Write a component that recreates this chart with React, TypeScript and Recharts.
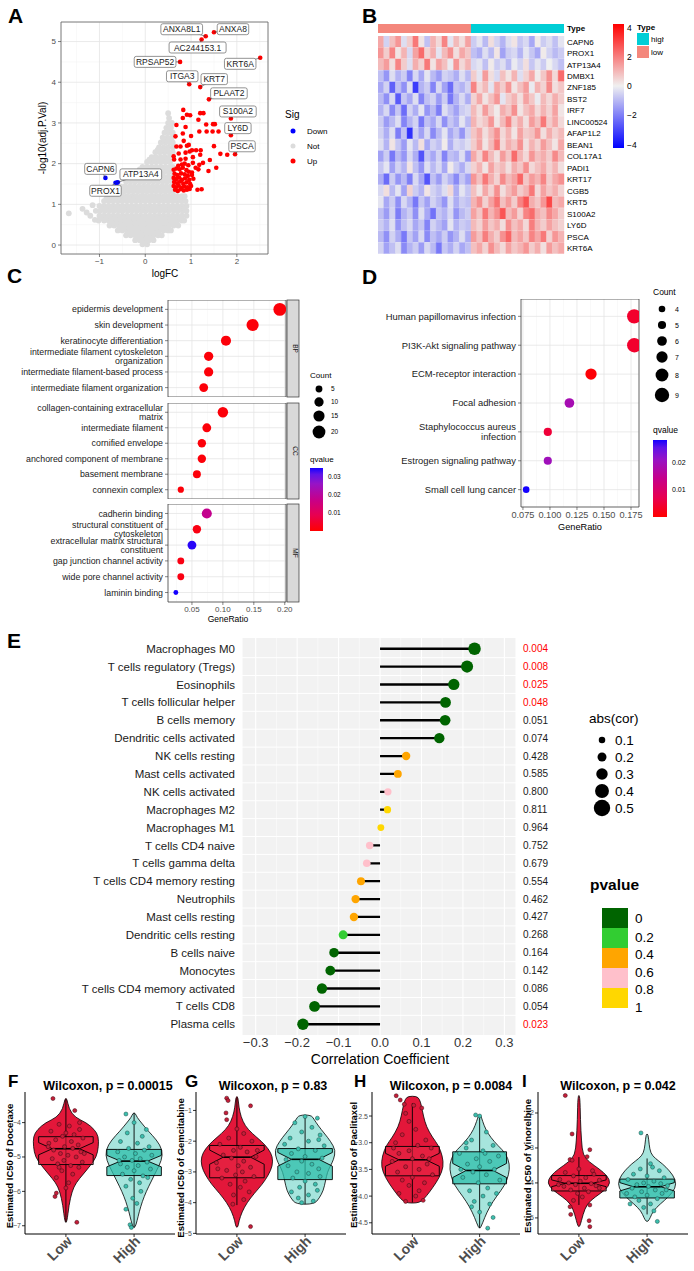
import React from "react";
import {
  ScatterChart, Scatter, XAxis, YAxis, CartesianGrid, ReferenceLine, ReferenceArea, BarChart, Bar, Cell,
} from "recharts";

const FONT = '"Liberation Sans", Arial, Helvetica, sans-serif';
const MINUS = "\u2212";
function fmtNum(v: number, dec: number) {
  const s = Math.abs(v).toFixed(dec);
  return v < 0 && Math.abs(v) > 1e-9 ? MINUS + s : s;
}

// ================= Panel A : volcano =================
const volcanoGreyRows = [
  { y: 0.02, xs: [-0.06, 0.04] },
  { y: 0.12, xs: [-0.22, -0.12, -0.02, 0.08, 0.18] },
  { y: 0.24, xs: [-0.42, -0.32, -0.22, -0.12, -0.02, 0.08, 0.18, 0.28, 0.36] },
  { y: 0.36, xs: [-0.6, -0.5, -0.4, -0.3, -0.2, -0.1, 0, 0.1, 0.2, 0.3, 0.4, 0.5, 0.56] },
  { y: 0.48, xs: [-0.78, -0.68, -0.58, -0.48, -0.38, -0.28, -0.18, -0.08, 0.02, 0.12, 0.22, 0.32, 0.42, 0.52, 0.62, 0.72] },
  { y: 0.6, xs: [-1.02, -0.9, -0.8, -0.7, -0.6, -0.5, -0.4, -0.3, -0.2, -0.1, 0, 0.1, 0.2, 0.3, 0.4, 0.5, 0.6, 0.7, 0.8, 0.85] },
  { y: 0.72, xs: [-1.2, -1.0, -0.9, -0.8, -0.7, -0.6, -0.5, -0.4, -0.3, -0.2, -0.1, 0, 0.1, 0.2, 0.3, 0.4, 0.5, 0.6, 0.7, 0.8, 0.9] },
  { y: 0.84, xs: [-1.08, -0.98, -0.88, -0.78, -0.68, -0.58, -0.48, -0.38, -0.28, -0.18, -0.08, 0.02, 0.12, 0.22, 0.32, 0.42, 0.52, 0.62, 0.72, 0.82, 0.9] },
  { y: 0.96, xs: [-1.0, -0.9, -0.8, -0.7, -0.6, -0.5, -0.4, -0.3, -0.2, -0.1, 0, 0.1, 0.2, 0.3, 0.4, 0.5, 0.6, 0.7, 0.8, 0.9] },
  { y: 1.08, xs: [-0.9, -0.8, -0.7, -0.6, -0.5, -0.4, -0.3, -0.2, -0.1, 0, 0.1, 0.2, 0.3, 0.4, 0.5, 0.6, 0.7, 0.8, 0.88] },
  { y: 1.2, xs: [-0.8, -0.7, -0.6, -0.5, -0.4, -0.3, -0.2, -0.1, 0, 0.1, 0.2, 0.3, 0.4, 0.5, 0.6, 0.7, 0.8, 0.86] },
  { y: 1.32, xs: [-0.66, -0.56, -0.46, -0.36, -0.26, -0.16, -0.06, 0.04, 0.14, 0.24, 0.34, 0.44, 0.54, 0.62] },
  { y: 1.44, xs: [-0.54, -0.44, -0.34, -0.24, -0.14, -0.04, 0.06, 0.16, 0.26, 0.36, 0.46, 0.56, 0.62] },
  { y: 1.56, xs: [-0.42, -0.32, -0.22, -0.12, -0.02, 0.08, 0.18, 0.28, 0.38, 0.48, 0.58] },
  { y: 1.68, xs: [-0.3, -0.2, -0.1, 0, 0.1, 0.2, 0.3, 0.4, 0.5, 0.6] },
  { y: 1.8, xs: [-0.18, -0.08, 0.02, 0.12, 0.22, 0.32, 0.42, 0.52, 0.6] },
  { y: 1.92, xs: [-0.06, 0.04, 0.14, 0.24, 0.34, 0.44, 0.54, 0.6] },
  { y: 2.04, xs: [0.04, 0.14, 0.24, 0.34, 0.44, 0.54] },
  { y: 2.16, xs: [0.14, 0.24, 0.34, 0.44, 0.54, 0.6] },
  { y: 2.28, xs: [0.22, 0.32, 0.42, 0.52, 0.6] },
  { y: 2.4, xs: [0.3, 0.4, 0.5, 0.6] },
  { y: 2.52, xs: [0.34, 0.44, 0.54, 0.6] },
  { y: 2.64, xs: [0.38, 0.48, 0.58] },
  { y: 2.76, xs: [0.42, 0.52, 0.6] },
  { y: 2.88, xs: [0.46, 0.56] },
  { y: 3.0, xs: [0.5, 0.58] },
  { y: 3.12, xs: [0.52] },
  { y: 3.24, xs: [0.5] },
];
const volcanoGreyFill = [
  [-0.01, 0.07], [-0.17, 0.18], [-0.07, 0.18], [0.03, 0.18], [0.13, 0.18], [-0.37, 0.3], [-0.27, 0.3], [-0.17, 0.3], [-0.07, 0.3], [0.03, 0.3], [0.13, 0.3], [0.23, 0.3],
  [-0.55, 0.42], [-0.45, 0.42], [-0.35, 0.42], [-0.25, 0.42], [-0.15, 0.42], [-0.05, 0.42], [0.05, 0.42], [0.15, 0.42], [0.25, 0.42], [0.35, 0.42], [0.45, 0.42],
  [-0.73, 0.54], [-0.63, 0.54], [-0.53, 0.54], [-0.43, 0.54], [-0.33, 0.54], [-0.23, 0.54], [-0.13, 0.54], [-0.03, 0.54], [0.07, 0.54], [0.17, 0.54], [0.27, 0.54], [0.37, 0.54], [0.47, 0.54], [0.57, 0.54], [0.67, 0.54],
  [-0.95, 0.66], [-0.85, 0.66], [-0.75, 0.66], [-0.65, 0.66], [-0.55, 0.66], [-0.45, 0.66], [-0.35, 0.66], [-0.25, 0.66], [-0.15, 0.66], [-0.05, 0.66], [0.05, 0.66], [0.15, 0.66], [0.25, 0.66], [0.35, 0.66], [0.45, 0.66], [0.55, 0.66], [0.65, 0.66], [0.75, 0.66],
  [-0.95, 0.9], [-0.85, 0.9], [-0.75, 0.9], [-0.65, 0.9], [-0.55, 0.9], [-0.45, 0.9], [-0.35, 0.9], [-0.25, 0.9], [-0.15, 0.9], [-0.05, 0.9], [0.05, 0.9], [0.15, 0.9], [0.25, 0.9], [0.35, 0.9], [0.45, 0.9], [0.55, 0.9], [0.65, 0.9], [0.75, 0.9], [0.85, 0.9],
  [-0.85, 1.14], [-0.75, 1.14], [-0.65, 1.14], [-0.55, 1.14], [-0.45, 1.14], [-0.35, 1.14], [-0.25, 1.14], [-0.15, 1.14], [-0.05, 1.14], [0.05, 1.14], [0.15, 1.14], [0.25, 1.14], [0.35, 1.14], [0.45, 1.14], [0.55, 1.14], [0.65, 1.14], [0.75, 1.14],
  [-0.61, 1.38], [-0.51, 1.38], [-0.41, 1.38], [-0.31, 1.38], [-0.21, 1.38], [-0.11, 1.38], [-0.01, 1.38], [0.09, 1.38], [0.19, 1.38], [0.29, 1.38], [0.39, 1.38], [0.49, 1.38],
  [-0.37, 1.62], [-0.27, 1.62], [-0.17, 1.62], [-0.07, 1.62], [0.03, 1.62], [0.13, 1.62], [0.23, 1.62], [0.33, 1.62], [0.43, 1.62], [0.53, 1.62],
  [-0.12, 1.86], [-0.02, 1.86], [0.08, 1.86], [0.18, 1.86], [0.28, 1.86], [0.38, 1.86], [0.48, 1.86],
  [0.09, 2.1], [0.19, 2.1], [0.29, 2.1], [0.39, 2.1], [0.49, 2.1], [0.27, 2.34], [0.37, 2.34], [0.47, 2.34], [0.41, 2.58], [0.51, 2.58], [0.47, 2.82], [0.55, 2.94],
];
const volcanoGreyOutliers = [[-1.67, 0.78], [-1.37, 0.89], [-1.28, 0.8], [-1.15, 0.98], [-1.1, 0.62]];
const volcanoUp = [
  [1.5, 5.23], [1.32, 5.13], [1.23, 5.05], [2.51, 4.6], [0.76, 4.5], [0.96, 3.95], [1.2, 3.88], [1.39, 3.58],
  [1.87, 3.11], [1.87, 2.7], [1.96, 2.23],
  [0.83, 3.32], [0.82, 3.12], [0.91, 3.2], [0.98, 3.19], [1.2, 3.24], [1.27, 3.24], [0.68, 2.95], [0.88, 2.9],
  [1.16, 3.08], [1.33, 2.96], [1.48, 2.97], [1.52, 2.97], [1.18, 2.79], [1.34, 2.79], [1.47, 2.79], [1.6, 2.79],
  [0.66, 2.67], [0.82, 2.74], [0.84, 2.56], [1.0, 2.68], [0.68, 2.42], [0.77, 2.42], [0.91, 2.44], [0.95, 2.46],
  [1.5, 2.43], [1.02, 2.33], [1.11, 2.33], [1.21, 2.33], [1.64, 2.24], [1.79, 2.22], [0.62, 2.18], [0.73, 2.25],
  [0.88, 2.27], [0.97, 2.3], [1.2, 2.22], [0.63, 2.1], [0.77, 2.1], [0.88, 2.12], [1.04, 2.16], [1.41, 2.09],
  [1.04, 2.02], [1.26, 2.02], [1.18, 1.97], [1.55, 1.9], [1.16, 1.86], [1.38, 1.82],
  [0.62, 1.85], [0.68, 1.88], [0.75, 1.86], [0.82, 1.9], [0.9, 1.84], [0.95, 1.8], [0.64, 1.75], [0.7, 1.72],
  [0.78, 1.76], [0.86, 1.74], [0.93, 1.7], [1.02, 1.72], [0.62, 1.65], [0.68, 1.62], [0.74, 1.66], [0.8, 1.6],
  [0.87, 1.64], [0.96, 1.6], [1.05, 1.63], [0.63, 1.55], [0.7, 1.52], [0.76, 1.56], [0.83, 1.5], [0.9, 1.54],
  [0.98, 1.5], [0.62, 1.45], [0.67, 1.42], [0.73, 1.46], [0.79, 1.4], [0.85, 1.44], [0.92, 1.42], [1.0, 1.45],
  [0.65, 1.36], [0.71, 1.33], [0.77, 1.37], [0.84, 1.34], [0.91, 1.36], [0.97, 1.38], [1.14, 1.36], [1.23, 1.37],
  [0.72, 1.95], [0.8, 1.98], [0.86, 2.0], [0.94, 1.96], [1.1, 1.9], [1.02, 1.78],
];
const volcanoDown = [[-0.87, 1.65], [-0.65, 1.53], [-0.62, 1.53], [-0.6, 1.54]];
const volcanoLabels = [
  { gene: "ANXA8", x: 1.5, y: 5.23 }, { gene: "ANXA8L1", x: 1.32, y: 5.13 }, { gene: "AC244153.1", x: 1.23, y: 5.05 },
  { gene: "KRT6A", x: 2.51, y: 4.6 }, { gene: "RPSAP52", x: 0.76, y: 4.5 }, { gene: "ITGA3", x: 0.96, y: 3.95 },
  { gene: "KRT7", x: 1.2, y: 3.88 }, { gene: "PLAAT2", x: 1.39, y: 3.58 }, { gene: "S100A2", x: 1.87, y: 3.11 },
  { gene: "LY6D", x: 1.87, y: 2.7 }, { gene: "PSCA", x: 1.96, y: 2.23 }, { gene: "CAPN6", x: -0.87, y: 1.65 },
  { gene: "PROX1", x: -0.65, y: 1.53 }, { gene: "ATP13A4", x: -0.6, y: 1.54 },
];
const LABEL_OFFSETS: Record<string, number[]> = {
  ANXA8L1: [-24, -7], ANXA8: [19, -3], "AC244153.1": [-4, 8], KRT6A: [-20, 6], RPSAP52: [-25, 0],
  ITGA3: [-7, -8], KRT7: [14, -8], PLAAT2: [20, -6], S100A2: [7, -7], LY6D: [7, -7], PSCA: [7, -8],
  CAPN6: [-5, -9], PROX1: [-10, 8], ATP13A4: [23, -8],
};

// ================= Panel B : heatmap =================
const heatGenes = ["CAPN6", "PROX1", "ATP13A4", "DMBX1", "ZNF185", "BST2", "IRF7", "LINC00524", "AFAP1L2", "BEAN1",
  "COL17A1", "PADI1", "KRT17", "CGB5", "KRT5", "S100A2", "LY6D", "PSCA", "KRT6A"];
const typeGroups = ["low", "high"];
const typeSizes = [16, 16];
const heatValues = [
  [1.2, -0.5, 0.8, 1.5, -0.3, 0.6, 2.0, 0.2, -0.8, 1.0, 0.4, 1.8, -0.2, 0.9, 0.3, 1.3, -0.6, -0.2, -0.9, 0.3, -0.5, -1.0, -0.3, 0.2, -0.7, -0.4, -1.2, 0.1, -0.6, -0.3, -0.8, -0.2],
  [1.5, 0.6, 1.8, 0.2, 1.0, -0.4, 1.3, 2.2, 0.5, 1.1, -0.2, 0.9, 1.6, 0.3, 1.2, 0.7, -0.8, -1.1, -0.3, -0.9, 0.2, -1.3, -0.6, -0.4, -1.0, -0.2, -0.7, -1.2, 0.1, -0.5, -0.9, -0.6],
  [0.9, 1.4, 0.3, 1.8, 0.6, -0.3, 1.1, 0.5, 2.0, 0.2, 1.3, 0.8, -0.1, 1.5, 0.4, 1.0, -0.4, -0.2, -0.8, 0.1, -0.6, -0.3, -0.9, -0.1, -0.5, 0.3, -0.7, -0.2, -0.6, 0.0, -0.4, -0.8],
  [-0.8, -1.5, -0.3, -1.0, -0.6, -1.8, -0.4, -1.2, -0.2, -0.9, -1.4, -0.5, -0.7, -1.1, -0.3, -0.9, 0.6, -0.2, 1.4, 0.3, -0.4, 0.8, 0.2, 1.0, -0.3, 0.5, 1.2, 0.1, 0.7, 1.6, 0.4, 2.2],
  [-1.2, -0.5, -2.4, -0.8, -1.6, -0.3, -3.0, -1.0, -0.6, -1.8, -0.4, -1.3, -2.2, -0.7, -1.0, -0.5, 1.8, 0.4, 0.9, -0.2, 1.2, 0.6, 1.5, 0.2, 0.8, 1.4, -0.1, 1.0, 0.5, 1.7, 0.3, 0.7],
  [-0.9, -1.6, -0.4, -2.5, -0.7, -1.2, -0.3, -1.8, -0.8, -0.5, -1.4, -0.6, -2.0, -1.0, -0.4, -1.1, 0.5, 1.2, 0.2, 0.8, 1.5, -0.2, 0.6, 1.0, 0.3, 1.3, 0.7, -0.1, 0.9, 0.4, 1.1, 0.6],
  [-1.0, -0.4, -1.7, -0.7, -2.2, -0.5, -1.1, -0.2, -1.5, -0.9, -1.9, -0.3, -0.8, -1.3, -0.6, -0.4, 0.9, 0.3, 1.4, 0.6, 0.1, 1.1, 0.7, 1.6, 0.2, 0.8, 1.2, 0.4, 1.0, 0.5, 1.3, 0.2],
  [-0.6, -1.4, -0.9, -0.3, -1.8, -1.0, -0.5, -2.0, -0.8, -1.2, -0.4, -1.6, -0.7, -1.1, -0.2, -0.9, 1.0, 0.4, 0.7, 1.5, 0.2, 0.9, 1.8, 0.5, 1.1, 0.3, 1.4, 0.8, 2.0, 0.6, 1.2, 0.4],
  [-0.5, -1.1, -0.3, -1.9, -0.8, -3.2, -0.6, -1.3, -0.4, -1.7, -0.9, -0.2, -1.2, -0.7, -1.5, -0.5, 0.7, 1.2, 0.3, 0.9, 1.6, 0.4, 1.0, 0.2, 1.3, 0.6, 0.8, 1.5, 0.3, 1.1, 0.5, 0.9],
  [-0.3, -1.0, 0.2, -0.7, -1.4, -0.2, -0.9, 0.3, -1.2, -0.5, -0.8, 0.1, -1.1, -0.4, -0.6, -0.3, 0.6, 1.3, 0.2, 0.9, 2.0, 0.4, 1.1, 0.7, 1.6, 0.3, 1.0, 0.5, 1.4, 0.8, 0.2, 1.2],
  [-1.3, -0.6, -2.0, -0.9, -1.5, -0.4, -1.1, -2.6, -0.7, -1.2, -0.5, -1.8, -0.8, -1.0, -0.3, -1.4, 1.2, 0.5, 1.8, 0.9, 0.3, 1.4, 0.7, 2.2, 1.0, 0.4, 1.5, 0.8, 1.1, 0.6, 1.7, 0.9],
  [-0.7, -0.2, -1.3, -0.5, -1.0, 0.2, -0.8, -1.5, -0.3, -0.9, -0.4, -1.2, 0.1, -0.6, -1.1, -0.4, 0.5, 1.0, 0.2, 1.3, 0.6, 0.9, 0.3, 1.1, 0.7, 1.6, 0.4, 0.8, 1.2, 0.5, 1.0, 0.3],
  [-1.1, -2.2, -0.6, -1.5, -0.9, -1.9, -0.4, -1.2, -2.6, -0.8, -1.4, -0.5, -1.0, -1.7, -0.7, -1.3, 1.5, 0.8, 2.0, 1.1, 0.5, 1.7, 0.9, 1.3, 2.3, 0.7, 1.4, 1.0, 1.8, 0.6, 1.2, 1.6],
  [-0.4, 0.3, -0.9, -0.2, -1.3, 0.5, -0.6, -1.0, 0.2, -0.5, -0.8, -0.3, 0.4, -1.1, -0.2, -0.7, 0.8, 0.2, 1.2, 0.5, 1.6, 0.3, 0.9, 1.4, 0.6, 1.0, 2.0, 0.4, 1.3, 0.7, 1.1, 0.5],
  [-0.2, -1.2, -0.6, -1.6, -0.4, -1.0, -2.0, -0.7, -1.3, -0.5, -0.9, -1.5, -0.3, -1.1, -0.6, -0.8, 1.0, 1.6, 0.5, 1.3, 2.1, 0.8, 1.4, 0.6, 1.8, 2.6, 1.1, 0.7, 1.5, 2.8, 0.9, 1.2],
  [-0.8, -1.4, -0.5, -1.9, -1.0, -0.6, -1.6, -0.3, -1.2, -2.1, -0.7, -1.0, -0.4, -1.5, -0.9, -0.6, 1.3, 0.7, 2.0, 1.0, 1.6, 2.6, 0.9, 1.4, 0.5, 1.8, 2.2, 1.1, 0.8, 1.7, 1.2, 0.6],
  [-0.6, -1.0, -0.3, -1.5, -0.8, -0.4, -1.2, -0.7, -1.8, -0.5, -0.9, -1.3, -0.2, -1.0, -0.6, -0.8, 0.9, 0.5, 1.4, 0.7, 1.1, 0.3, 1.6, 0.8, 1.2, 0.4, 1.9, 1.0, 0.6, 1.3, 0.8, 0.5],
  [-0.9, -1.6, -0.5, -1.1, -2.0, -0.7, -1.3, -0.4, -1.7, -0.8, -1.2, -0.6, -1.5, -1.0, -0.3, -1.1, 1.4, 0.8, 1.9, 1.1, 0.6, 1.6, 2.3, 0.9, 1.3, 0.7, 1.8, 1.2, 2.0, 0.5, 1.5, 1.0],
  [-0.5, -1.3, -0.8, -0.3, -1.7, -1.0, -0.6, -1.4, -0.4, -0.9, -2.0, -0.7, -1.1, -0.5, -1.2, -0.8, 0.8, 1.2, 0.5, 1.6, 0.9, 0.4, 1.3, 0.7, 1.0, 1.5, 0.6, 1.1, 0.3, 1.4, 0.8, 1.2],
];

// ================= Panel C : GO =================
const goBP = [
  { term: "epidermis development", ratio: 0.192, count: 20, q: 0.001 },
  { term: "skin development", ratio: 0.148, count: 18, q: 0.001 },
  { term: "keratinocyte differentiation", ratio: 0.105, count: 12, q: 0.001 },
  { term: "intermediate filament cytoskeleton\norganization", ratio: 0.077, count: 10, q: 0.001 },
  { term: "intermediate filament-based process", ratio: 0.077, count: 10, q: 0.001 },
  { term: "intermediate filament organization", ratio: 0.069, count: 9, q: 0.001 },
];
const goCC = [
  { term: "collagen-containing extracellular\nmatrix", ratio: 0.1, count: 13, q: 0.001 },
  { term: "intermediate filament", ratio: 0.074, count: 9, q: 0.001 },
  { term: "cornified envelope", ratio: 0.066, count: 8, q: 0.001 },
  { term: "anchored component of membrane", ratio: 0.066, count: 8, q: 0.001 },
  { term: "basement membrane", ratio: 0.058, count: 7, q: 0.001 },
  { term: "connexin complex", ratio: 0.032, count: 4, q: 0.001 },
];
const goMF = [
  { term: "cadherin binding", ratio: 0.074, count: 12, q: 0.018 },
  { term: "structural constituent of\ncytoskeleton", ratio: 0.058, count: 8, q: 0.002 },
  { term: "extracellular matrix structural\nconstituent", ratio: 0.05, count: 9, q: 0.034 },
  { term: "gap junction channel activity", ratio: 0.032, count: 5, q: 0.002 },
  { term: "wide pore channel activity", ratio: 0.032, count: 5, q: 0.002 },
  { term: "laminin binding", ratio: 0.024, count: 2, q: 0.035 },
];
const goCountLegend = [5, 10, 15, 20];
const goQTicks = [0.03, 0.02, 0.01];
const GO_QMAX = 0.035;

// ================= Panel D : KEGG =================
const kegg = [
  { term: "Human papillomavirus infection", ratio: 0.178, count: 9, q: 0.004 },
  { term: "PI3K-Akt signaling pathway", ratio: 0.178, count: 9, q: 0.004 },
  { term: "ECM-receptor interaction", ratio: 0.138, count: 7, q: 0.0005 },
  { term: "Focal adhesion", ratio: 0.118, count: 6, q: 0.019 },
  { term: "Staphylococcus aureus\ninfection", ratio: 0.098, count: 5, q: 0.005 },
  { term: "Estrogen signaling pathway", ratio: 0.098, count: 5, q: 0.02 },
  { term: "Small cell lung cancer", ratio: 0.078, count: 4, q: 0.0285 },
];
const keggCountLegend = [4, 5, 6, 7, 8, 9];
const keggQTicks = [0.02, 0.01];
const KEGG_QMAX = 0.0285;

// ================= Panel E : immune lollipop =================
const cellNames = ["Macrophages M0", "T cells regulatory (Tregs)", "Eosinophils", "T cells follicular helper", "B cells memory",
  "Dendritic cells activated", "NK cells resting", "Mast cells activated", "NK cells activated", "Macrophages M2",
  "Macrophages M1", "T cells CD4 naive", "T cells gamma delta", "T cells CD4 memory resting", "Neutrophils",
  "Mast cells resting", "Dendritic cells resting", "B cells naive", "Monocytes", "T cells CD4 memory activated",
  "T cells CD8", "Plasma cells"];
const cellCor = [0.228, 0.21, 0.178, 0.158, 0.157, 0.143, 0.063, 0.043, 0.019, 0.018, 0.002, -0.025, -0.032, -0.046,
  -0.059, -0.063, -0.089, -0.111, -0.12, -0.14, -0.158, -0.186];
const cellP = [0.004, 0.008, 0.025, 0.048, 0.051, 0.074, 0.428, 0.585, 0.8, 0.811, 0.964, 0.752, 0.679, 0.554, 0.462,
  0.427, 0.268, 0.164, 0.142, 0.086, 0.054, 0.023];
const corTicks = [-0.3, -0.2, -0.1, 0, 0.1, 0.2, 0.3];
const absCorLegend = [0.1, 0.2, 0.3, 0.4, 0.5];
const pvalueLegend = ["0", "0.2", "0.4", "0.6", "0.8", "1"];

// ================= Panels F-I : drug sensitivity =================
const docetaxelLowViolin = [[-3.3, 1], [-3.6, 3], [-3.85, 9], [-4.0, 20], [-4.2, 28], [-4.4, 32], [-4.7, 32], [-5.0, 30], [-5.25, 24], [-5.5, 17], [-5.75, 10], [-6.0, 6], [-6.4, 3], [-6.9, 1]];
const docetaxelHighViolin = [[-3.72, 1], [-3.85, 3], [-4.0, 7], [-4.25, 14], [-4.5, 22], [-4.8, 28], [-5.1, 27], [-5.4, 22], [-5.7, 17], [-6.0, 12], [-6.3, 8], [-6.6, 5], [-6.85, 3], [-7.05, 1]];
const docetaxelLowBox = [-6.9, -5.22, -4.76, -4.41, -3.3];
const docetaxelHighBox = [-7.05, -5.54, -5.12, -4.78, -3.72];
const docetaxelLowPts = [[-0.19, -3.3], [0.13, -3.65], [-0.16, -6.15], [-0.14, -6.05], [0.16, -6.9], [-0.1, -4.05], [0.05, -4.1], [0.2, -4.2], [-0.22, -4.25], [0.0, -4.3], [0.12, -4.35], [-0.05, -4.4], [0.25, -4.45], [-0.15, -4.5], [0.08, -4.55], [-0.25, -4.6], [0.18, -4.65], [-0.02, -4.7], [0.1, -4.75], [-0.18, -4.8], [0.22, -4.85], [-0.08, -4.9], [0.03, -4.95], [0.15, -5.0], [-0.2, -5.05], [-0.03, -5.1], [0.24, -5.15], [-0.12, -5.2], [0.07, -5.25], [0.19, -5.3], [-0.06, -5.4], [0.1, -5.5], [-0.14, -5.6], [0.04, -5.75], [0.0, -5.9], [0.2, -4.0], [-0.26, -4.7], [0.27, -4.9], [-0.1, -5.3]];
const docetaxelHighPts = [[-0.12, -3.75], [0.18, -4.2], [-0.12, -6.52], [-0.06, -6.97], [-0.04, -7.05], [0.0, -4.0], [-0.1, -4.3], [0.12, -4.4], [-0.2, -4.55], [0.05, -4.6], [0.22, -4.7], [-0.08, -4.75], [0.15, -4.8], [-0.24, -4.85], [0.02, -4.9], [0.26, -4.95], [-0.14, -5.0], [0.09, -5.05], [-0.03, -5.1], [0.19, -5.15], [-0.2, -5.2], [0.06, -5.25], [-0.1, -5.3], [0.24, -5.35], [0.0, -5.4], [-0.17, -5.5], [0.13, -5.55], [-0.05, -5.65], [0.08, -5.75], [-0.12, -5.85], [0.1, -6.0], [-0.02, -6.2], [0.04, -6.35], [-0.22, -5.1], [0.2, -5.6]];

const gemcitabineLowViolin = [[-0.55, 1], [-0.9, 2], [-1.2, 4], [-1.5, 8], [-1.75, 15], [-2.0, 24], [-2.25, 31], [-2.5, 35], [-2.8, 35], [-3.1, 31], [-3.4, 25], [-3.7, 17], [-4.0, 10], [-4.3, 5], [-4.6, 2], [-4.8, 1]];
const gemcitabineHighViolin = [[-1.15, 6], [-1.3, 9], [-1.5, 13], [-1.75, 19], [-2.0, 25], [-2.3, 30], [-2.6, 28], [-2.8, 25], [-3.0, 22], [-3.3, 20], [-3.6, 18], [-3.85, 14], [-4.05, 9]];
const gemcitabineLowBox = [-4.08, -3.19, -2.52, -2.14, -0.6];
const gemcitabineHighBox = [-4.05, -3.25, -2.59, -2.24, -1.15];
const gemcitabineLowPts = [[-0.15, -0.6], [-0.13, -0.68], [0.2, -0.85], [-0.16, -1.08], [-0.15, -1.3], [0.2, -4.78], [0.0, -1.6], [0.1, -1.75], [-0.12, -1.9], [0.22, -2.0], [-0.25, -2.1], [0.05, -2.2], [-0.05, -2.3], [0.15, -2.35], [-0.2, -2.45], [0.28, -2.5], [-0.08, -2.55], [0.1, -2.65], [-0.3, -2.7], [0.02, -2.8], [0.2, -2.85], [-0.15, -2.95], [0.08, -3.0], [-0.02, -3.1], [0.25, -3.15], [-0.22, -3.2], [0.12, -3.3], [-0.1, -3.4], [0.05, -3.5], [0.18, -3.65], [-0.05, -3.75], [0.1, -3.9], [-0.06, -4.05], [0.3, -2.3], [-0.28, -2.9]];
const gemcitabineHighPts = [[0.0, -1.2], [0.18, -1.25], [-0.15, -1.4], [0.1, -1.55], [-0.05, -1.7], [0.22, -1.8], [-0.22, -1.9], [0.05, -2.0], [-0.3, -2.1], [0.28, -2.15], [-0.1, -2.25], [0.15, -2.3], [-0.2, -2.4], [0.0, -2.5], [0.25, -2.55], [-0.05, -2.65], [0.1, -2.75], [-0.25, -2.8], [0.2, -2.9], [-0.12, -3.0], [0.05, -3.05], [0.22, -3.15], [-0.18, -3.2], [0.0, -3.3], [0.15, -3.4], [-0.08, -3.5], [0.18, -3.6], [-0.2, -3.65], [0.05, -3.75], [-0.1, -3.85], [0.12, -3.95], [-0.05, -4.0], [0.2, -1.95], [-0.28, -2.6]];

const paclitaxelLowViolin = [[-2.13, 4], [-2.18, 7], [-2.3, 9], [-2.5, 11], [-2.7, 14], [-2.9, 20], [-3.05, 26], [-3.25, 30], [-3.45, 31], [-3.65, 27], [-3.85, 20], [-4.0, 14], [-4.1, 9], [-4.13, 4]];
const paclitaxelHighViolin = [[-2.48, 1], [-2.6, 3], [-2.75, 6], [-2.9, 11], [-3.05, 18], [-3.2, 26], [-3.4, 30], [-3.6, 29], [-3.8, 25], [-4.0, 17], [-4.2, 10], [-4.4, 5], [-4.6, 1]];
const paclitaxelLowBox = [-4.12, -3.62, -3.32, -3.07, -2.26];
const paclitaxelHighBox = [-4.6, -3.77, -3.52, -3.17, -2.5];
const paclitaxelLowPts = [[-0.24, -2.12], [-0.18, -2.2], [-0.12, -2.28], [0.02, -2.3], [0.14, -2.35], [-0.1, -2.45], [-0.05, -2.6], [0.05, -2.75], [-0.15, -2.85], [0.2, -2.95], [-0.25, -3.0], [0.08, -3.05], [0.28, -3.1], [-0.05, -3.15], [-0.2, -3.2], [0.15, -3.25], [0.0, -3.3], [-0.3, -3.35], [0.22, -3.4], [-0.1, -3.45], [0.1, -3.5], [-0.22, -3.55], [0.3, -3.6], [0.0, -3.65], [-0.15, -3.7], [0.18, -3.75], [-0.05, -3.8], [0.1, -3.9], [-0.2, -3.95], [0.05, -4.0], [0.16, -4.08], [-0.1, -4.1], [0.25, -3.3], [-0.28, -3.1]];
const paclitaxelHighPts = [[-0.06, -2.48], [0.0, -2.5], [0.1, -2.8], [-0.12, -2.95], [0.2, -3.05], [-0.2, -3.1], [0.05, -3.15], [-0.3, -3.2], [0.28, -3.25], [-0.05, -3.3], [0.15, -3.35], [-0.18, -3.4], [0.0, -3.45], [0.22, -3.5], [-0.1, -3.55], [0.1, -3.6], [-0.25, -3.65], [0.3, -3.7], [-0.02, -3.75], [0.12, -3.85], [-0.15, -3.9], [0.05, -4.0], [-0.08, -4.1], [0.15, -4.15], [-0.12, -4.2], [0.0, -4.3], [0.2, -4.4], [0.12, -4.6], [-0.2, -3.0], [0.25, -3.95], [-0.28, -3.5], [0.08, -3.2]];

const vinorelbineLowViolin = [[-1.5, 1], [-2.2, 1.5], [-2.8, 2.5], [-3.2, 4], [-3.4, 10], [-3.6, 20], [-3.8, 28], [-4.0, 31], [-4.2, 26], [-4.4, 16], [-4.6, 8], [-4.9, 4], [-5.25, 1]];
const vinorelbineHighViolin = [[-2.6, 1], [-2.9, 2], [-3.15, 3.5], [-3.3, 8], [-3.45, 15], [-3.65, 22], [-3.9, 28], [-4.15, 28], [-4.4, 21], [-4.6, 13], [-4.8, 6], [-5.0, 3], [-5.1, 1]];
const vinorelbineLowBox = [-4.63, -4.23, -4.01, -3.79, -3.26];
const vinorelbineHighBox = [-4.9, -4.43, -4.11, -3.89, -3.3];
const vinorelbineLowPts = [[-0.2, -1.5], [-0.1, -2.6], [0.16, -3.05], [0.12, -3.25], [-0.13, -3.33], [-0.1, -3.35], [-0.13, -4.68], [-0.12, -4.9], [0.16, -4.63], [0.16, -5.25], [0.15, -5.08], [0.0, -3.6], [-0.2, -3.7], [0.22, -3.75], [-0.08, -3.8], [0.1, -3.85], [-0.28, -3.9], [0.3, -3.92], [0.02, -3.95], [-0.15, -4.0], [0.18, -4.02], [-0.05, -4.05], [0.25, -4.08], [-0.22, -4.1], [0.08, -4.15], [-0.12, -4.2], [0.14, -4.25], [-0.02, -4.3], [0.05, -4.4], [-0.08, -4.5], [0.2, -3.65], [-0.3, -4.05], [0.3, -4.15]];
const vinorelbineHighPts = [[-0.09, -2.57], [0.15, -5.1], [0.05, -3.45], [-0.1, -3.6], [0.18, -3.65], [-0.2, -3.75], [0.0, -3.8], [0.25, -3.85], [-0.28, -3.9], [0.1, -3.95], [-0.05, -4.0], [0.2, -4.02], [-0.15, -4.05], [0.3, -4.08], [0.02, -4.1], [-0.22, -4.15], [0.12, -4.2], [-0.08, -4.25], [0.22, -4.3], [-0.3, -4.3], [0.0, -4.35], [0.15, -4.45], [-0.12, -4.5], [0.05, -4.6], [-0.05, -4.7], [0.1, -4.8], [-0.18, -4.4], [0.28, -4.2], [-0.25, -4.6], [0.08, -3.55]];

const groupNames = ["Low", "High"];

// ================= helpers =================
const Q_STOPS: [number, number[]][] = [[0, [255, 0, 0]], [0.25, [232, 0, 80]], [0.5, [198, 0, 138]], [0.75, [150, 20, 198]], [0.9, [95, 20, 232]], [1, [20, 0, 255]]];
function qColor(t: number) {
  t = Math.max(0, Math.min(1, t));
  for (let i = 0; i < Q_STOPS.length - 1; i++) {
    const [t0, c0] = Q_STOPS[i];
    const [t1, c1] = Q_STOPS[i + 1];
    if (t <= t1) {
      const f = (t - t0) / (t1 - t0);
      const c = c0.map((v, k) => Math.round(v + (c1[k] - v) * f));
      return `rgb(${c.join(",")})`;
    }
  }
  return "rgb(20,0,255)";
}
function heatColor(v: number) {
  const t = Math.max(-1, Math.min(1, v / 4));
  const mid = [240, 240, 240];
  const end = t > 0 ? [255, 0, 0] : [0, 0, 255];
  const a = Math.abs(t);
  const c = mid.map((m, i) => Math.round(m + (end[i] - m) * a));
  return `rgb(${c.join(",")})`;
}
function pColor(p: number) {
  if (p < 0.2) return "#006400";
  if (p < 0.4) return "#32CD32";
  if (p < 0.6) return "#FFA500";
  if (p <= 0.8) return "#FFC0CB";
  return "#FFD700";
}
const rGo = (count: number) => Math.sqrt(2 + 1.95 * count);
const rKegg = (count: number) => 3.3 + (count - 4) * 0.78;
const rCor = (c: number) => 3.4 + 12.5 * Math.abs(c);
const rCorLegend = (c: number) => 2.0 + 12.4 * c;

const NoShape = () => <g />;

const VolcanoLabel = (p: any) => {
  const g = p.payload.gene;
  const off = LABEL_OFFSETS[g] || [0, -10];
  const bx = p.cx + off[0];
  const by = p.cy + off[1];
  const w = g.length * 5.1 + 6;
  const h = 11;
  return (
    <g>
      <line x1={p.cx} y1={p.cy} x2={bx} y2={by} stroke="#333" strokeWidth={0.6} />
      <rect x={bx - w / 2} y={by - h / 2} width={w} height={h} rx={2} ry={2} fill="#fff" stroke="#666" strokeWidth={0.7} />
      <text x={bx} y={by + 3} textAnchor="middle" fontSize={8.5} fill="#1A1A1A" fontFamily={FONT}>{g}</text>
    </g>
  );
};

const dotShape = (fill: string, r: number) => (p: any) => <circle cx={p.cx} cy={p.cy} r={r} fill={fill} />;

function PanelA() {
  const grey: any[] = [];
  volcanoGreyRows.forEach((row) => row.xs.forEach((x) => grey.push({ x, y: row.y })));
  volcanoGreyFill.forEach(([x, y]) => grey.push({ x, y }));
  volcanoGreyOutliers.forEach(([x, y]) => grey.push({ x, y }));
  const up = volcanoUp.map(([x, y]) => ({ x, y }));
  const down = volcanoDown.map(([x, y]) => ({ x, y }));
  const xd = [-1.84, 2.68];
  const yd = [-0.22, 5.48];
  return (
    <div style={{ position: "absolute", left: 0, top: 0 }}>
      <ScatterChart width={280} height={285} margin={{ top: 22, right: 12, bottom: 11, left: 36 }}>
        <CartesianGrid stroke="#F2F2F2" strokeWidth={0.5} verticalValues={[-1.5, -0.5, 0.5, 1.5, 2.5]} horizontalValues={[0.5, 1.5, 2.5, 3.5, 4.5]} />
        <CartesianGrid stroke="#E4E4E4" strokeWidth={0.8} />
        <XAxis type="number" dataKey="x" domain={xd} allowDataOverflow ticks={[-1, 0, 1, 2]} tickFormatter={(v: number) => fmtNum(v, 0)}
          height={20} tickSize={3} tickMargin={1} axisLine={false} tickLine={{ stroke: "#333", strokeWidth: 0.6 }}
          tick={{ fontSize: 8, fill: "#4D4D4D", fontFamily: FONT }} interval={0} />
        <YAxis type="number" dataKey="y" domain={yd} allowDataOverflow ticks={[0, 1, 2, 3, 4, 5]} width={25} tickSize={3} tickMargin={2}
          axisLine={false} tickLine={{ stroke: "#333", strokeWidth: 0.6 }} tick={{ fontSize: 8, fill: "#4D4D4D", fontFamily: FONT }} interval={0} />
        <Scatter data={grey} shape={dotShape("#DCDCDC", 2.9)} isAnimationActive={false} />
        <Scatter data={up} shape={dotShape("#FF0000", 2.3)} isAnimationActive={false} />
        <Scatter data={down} shape={dotShape("#0000FF", 2.3)} isAnimationActive={false} />
        <Scatter data={volcanoLabels} shape={VolcanoLabel} isAnimationActive={false} />
        <ReferenceArea x1={xd[0]} x2={xd[1]} y1={yd[0]} y2={yd[1]} fill="none" fillOpacity={0} stroke="#666" strokeWidth={0.8} ifOverflow="visible" />
      </ScatterChart>
    </div>
  );
}

function PanelB() {
  const nCol = heatValues[0].length;
  const rows = heatGenes.map((g) => {
    const r: any = { gene: g };
    for (let j = 0; j < nCol; j++) r["c" + j] = 1;
    return r;
  });
  const cols = Array.from({ length: nCol }, (_, j) => j);
  const typeData = [{ name: "Type", low: typeSizes[0], high: typeSizes[1] }];
  return (
    <>
      <div style={{ position: "absolute", left: 378, top: 24 }}>
        <BarChart layout="vertical" width={226} height={9} data={typeData} margin={{ top: 0, right: 0, bottom: 0, left: 0 }} barCategoryGap={0}>
          <XAxis type="number" hide domain={[0, typeSizes[0] + typeSizes[1]]} />
          <YAxis type="category" dataKey="name" orientation="right" width={40} tickLine={false} axisLine={false} tickSize={0} tickMargin={3}
            interval={0} tick={{ fontSize: 8, fontWeight: "bold", fill: "#000", fontFamily: FONT }} />
          <Bar dataKey={typeGroups[0]} stackId="t" fill="#F4877C" isAnimationActive={false} />
          <Bar dataKey={typeGroups[1]} stackId="t" fill="#00CED6" isAnimationActive={false} />
        </BarChart>
      </div>
      <div style={{ position: "absolute", left: 378, top: 36 }}>
        <BarChart layout="vertical" width={256} height={218} data={rows} margin={{ top: 0, right: 0, bottom: 0, left: 0 }} barCategoryGap={0} barGap={0}>
          <XAxis type="number" hide domain={[0, nCol]} />
          <YAxis type="category" dataKey="gene" orientation="right" width={70} tickLine={false} axisLine={false} tickSize={0} tickMargin={3}
            interval={0} tick={{ fontSize: 8, fill: "#000", fontFamily: FONT }} />
          {cols.map((j) => (
            <Bar key={j} dataKey={"c" + j} stackId="h" isAnimationActive={false}>
              {heatValues.map((row, i) => <Cell key={i} fill={heatColor(row[j])} stroke={heatColor(row[j])} strokeWidth={0.4} />)}
            </Bar>
          ))}
        </BarChart>
      </div>
    </>
  );
}

const TermTick = (props: any) => {
  const { x, y, payload, names, fontSize } = props;
  const label: string = names[payload.value - 1] || "";
  const lines = label.split("\n");
  const lh = fontSize * 1.0;
  const y0 = y - ((lines.length - 1) * lh) / 2 + fontSize * 0.35;
  return (
    <text x={x} y={y0} textAnchor="end" fontSize={fontSize} fill="#1A1A1A" fontFamily={FONT}>
      {lines.map((l, i) => <tspan key={i} x={x} dy={i === 0 ? 0 : lh}>{l}</tspan>)}
    </text>
  );
};

function GoFacet({ top, plotH, terms, showX }: any) {
  const data = terms.map((t: any, i: number) => ({ x: t.ratio, y: i + 1, count: t.count, q: t.q }));
  const n = terms.length;
  const names = terms.map((t: any) => t.term);
  const xd = [0.0113, 0.202];
  const yd = [0.4, n + 0.6];
  const xH = showX ? 28 : 0;
  return (
    <div style={{ position: "absolute", left: 0, top }}>
      <ScatterChart width={300} height={plotH + xH} margin={{ top: 0, right: 14, bottom: 0, left: 0 }}>
        <CartesianGrid stroke="#F2F2F2" strokeWidth={0.5} horizontal={false} verticalValues={[0.025, 0.075, 0.125, 0.175]} />
        <CartesianGrid stroke="#E4E4E4" strokeWidth={0.8} />
        <XAxis type="number" dataKey="x" domain={xd} allowDataOverflow ticks={[0.05, 0.1, 0.15, 0.2]} hide={!showX} height={28}
          tickFormatter={(v: number) => v.toFixed(2)} tickSize={3} tickMargin={1} axisLine={false}
          tickLine={{ stroke: "#333", strokeWidth: 0.6 }} tick={{ fontSize: 8, fill: "#4D4D4D", fontFamily: FONT }} interval={0} />
        <YAxis type="number" dataKey="y" domain={yd} reversed allowDataOverflow ticks={terms.map((_: any, i: number) => i + 1)} width={168}
          tickSize={3} tickMargin={2} axisLine={false} tickLine={{ stroke: "#333", strokeWidth: 0.6 }} interval={0}
          tick={<TermTick names={names} fontSize={8.8} />} />
        <Scatter data={data} isAnimationActive={false}
          shape={(p: any) => <circle cx={p.cx} cy={p.cy} r={rGo(p.payload.count)} fill={qColor(p.payload.q / GO_QMAX)} />} />
        <ReferenceArea x1={xd[0]} x2={xd[1]} y1={yd[0]} y2={yd[1]} fill="none" fillOpacity={0} stroke="#333" strokeWidth={0.7} ifOverflow="visible" />
      </ScatterChart>
    </div>
  );
}

function PanelC() {
  return (
    <>
      <GoFacet top={300} plotH={97} terms={goBP} showX={false} />
      <GoFacet top={403} plotH={96} terms={goCC} showX={false} />
      <GoFacet top={504} plotH={98} terms={goMF} showX={true} />
    </>
  );
}

function PanelD() {
  const data = kegg.map((t, i) => ({ x: t.ratio, y: i + 1, count: t.count, q: t.q }));
  const names = kegg.map((t) => t.term);
  const xd = [0.0732, 0.1824];
  const yd = [0.4, kegg.length + 0.6];
  return (
    <div style={{ position: "absolute", left: 350, top: 299 }}>
      <ScatterChart width={301} height={238} margin={{ top: 0, right: 12, bottom: 0, left: 0 }}>
        <CartesianGrid stroke="#F2F2F2" strokeWidth={0.5} horizontal={false} verticalValues={[0.0875, 0.1125, 0.1375, 0.1625]} />
        <CartesianGrid stroke="#E4E4E4" strokeWidth={0.8} />
        <XAxis type="number" dataKey="x" domain={xd} allowDataOverflow ticks={[0.075, 0.1, 0.125, 0.15, 0.175]} height={30}
          tickFormatter={(v: number) => v.toFixed(3)} tickSize={3} tickMargin={1} axisLine={false}
          tickLine={{ stroke: "#333", strokeWidth: 0.6 }} tick={{ fontSize: 9.2, fill: "#4D4D4D", fontFamily: FONT }} interval={0} />
        <YAxis type="number" dataKey="y" domain={yd} reversed allowDataOverflow ticks={kegg.map((_, i) => i + 1)} width={171}
          tickSize={3} tickMargin={2} axisLine={false} tickLine={{ stroke: "#333", strokeWidth: 0.6 }} interval={0}
          tick={<TermTick names={names} fontSize={9.4} />} />
        <Scatter data={data} isAnimationActive={false}
          shape={(p: any) => <circle cx={p.cx} cy={p.cy} r={rKegg(p.payload.count)} fill={qColor(p.payload.q / KEGG_QMAX)} />} />
        <ReferenceArea x1={xd[0]} x2={xd[1]} y1={yd[0]} y2={yd[1]} fill="none" fillOpacity={0} stroke="#333" strokeWidth={0.7} ifOverflow="visible" />
      </ScatterChart>
    </div>
  );
}

const segmentLines = (stroke: string, width: number) => (props: any) => {
  const pts = props.points || [];
  let d = "";
  for (let k = 0; k + 1 < pts.length; k += 2) d += `M${pts[k].x},${pts[k].y}L${pts[k + 1].x},${pts[k + 1].y}`;
  return <path d={d} stroke={stroke} strokeWidth={width} fill="none" />;
};

const PTick = (p: any) => {
  const v = cellP[p.payload.value - 1];
  if (v === undefined) return <g />;
  return (
    <text x={p.x} y={p.y} dy="0.35em" textAnchor="start" fontSize={10} fill={v < 0.05 ? "#FF0000" : "#1A1A1A"} fontFamily={FONT}>
      {v.toFixed(3)}
    </text>
  );
};

function PanelE() {
  const dots = cellNames.map((_, i) => ({ x: cellCor[i], y: i + 1, p: cellP[i] }));
  const segs: any[] = [];
  cellNames.forEach((_, i) => {
    segs.push({ x: 0, y: i + 1 });
    segs.push({ x: cellCor[i], y: i + 1 });
  });
  const ticks = cellNames.map((_, i) => i + 1);
  const yd = [0.4, cellNames.length + 0.6];
  return (
    <div style={{ position: "absolute", left: 0, top: 638 }}>
      <ScatterChart width={566} height={437} margin={{ top: 0, right: 0, bottom: 0, left: 0 }}>
        <CartesianGrid yAxisId="l" fill="#F2F2F2" stroke="#FFFFFF" strokeWidth={1.1} horizontal={false} />
        <CartesianGrid yAxisId="l" stroke="#FFFFFF" strokeWidth={0.5} horizontal={false} verticalValues={[-0.25, -0.15, -0.05, 0.05, 0.15, 0.25]} />
        <XAxis type="number" dataKey="x" domain={[-0.333, 0.328]} allowDataOverflow ticks={corTicks} tickFormatter={(v: number) => fmtNum(v, 1)}
          height={40} tickSize={0} tickMargin={3} axisLine={false} tickLine={false}
          tick={{ fontSize: 13, fill: "#333", fontFamily: FONT }} interval={0} />
        <YAxis yAxisId="l" type="number" dataKey="y" domain={yd} reversed allowDataOverflow ticks={ticks} width={242}
          tickFormatter={(v: number) => cellNames[v - 1] || ""} tickSize={0} tickMargin={7} axisLine={false} tickLine={false}
          tick={{ fontSize: 11.5, fill: "#1A1A1A", fontFamily: FONT }} interval={0} />
        <YAxis yAxisId="r" orientation="right" type="number" dataKey="y" domain={yd} reversed allowDataOverflow ticks={ticks} width={50}
          tickSize={0} tickMargin={7} axisLine={false} tickLine={false} tick={<PTick />} interval={0} />
        {ticks.slice(0, -1).map((t) => (
          <ReferenceLine key={t} yAxisId="l" y={t + 0.5} stroke="#FFFFFF" strokeWidth={1} />
        ))}
        <Scatter yAxisId="l" data={segs} shape={NoShape} line={segmentLines("#000", 2.3)} isAnimationActive={false} />
        <Scatter yAxisId="l" data={dots} isAnimationActive={false}
          shape={(p: any) => <circle cx={p.cx} cy={p.cy} r={rCor(p.payload.x)} fill={pColor(p.payload.p)} />} />
        <Scatter yAxisId="r" data={dots} shape={NoShape} isAnimationActive={false} />
      </ScatterChart>
    </div>
  );
}

// ---------- violin helpers ----------
const VIOLIN_SCALE = 1 / 67;
const BOX_HALF = 0.4;
const NOTCH_FRAC = 0.22;

function violinPoly(profile: number[][], c: number) {
  const left = profile.map(([y, w]) => ({ x: c - w * VIOLIN_SCALE, y }));
  const right = profile.slice().reverse().map(([y, w]) => ({ x: c + w * VIOLIN_SCALE, y }));
  return [...left, ...right];
}
function boxPoly(b: number[], c: number) {
  const [, q1, md, q3] = b;
  const w = BOX_HALF;
  const n = NOTCH_FRAC * (q3 - q1);
  return [
    { x: c - w, y: q3 }, { x: c + w, y: q3 }, { x: c + w, y: md + n }, { x: c + w / 2, y: md }, { x: c + w, y: md - n },
    { x: c + w, y: q1 }, { x: c - w, y: q1 }, { x: c - w, y: md - n }, { x: c - w / 2, y: md }, { x: c - w, y: md + n },
  ];
}
function smoothClosed(pts: any[]) {
  const n = pts.length;
  const mid = (a: any, b: any) => ({ x: (a.x + b.x) / 2, y: (a.y + b.y) / 2 });
  const m0 = mid(pts[n - 1], pts[0]);
  let d = `M${m0.x},${m0.y}`;
  for (let i = 0; i < n; i++) {
    const p = pts[i];
    const m = mid(p, pts[(i + 1) % n]);
    d += `Q${p.x},${p.y} ${m.x},${m.y}`;
  }
  return d + "Z";
}
const polyPath = (fill: string, stroke: string, sw: number, smooth: boolean) => (props: any) => {
  const pts = props.points || [];
  if (pts.length < 3) return <g />;
  const d = smooth ? smoothClosed(pts) : pts.map((p: any, i: number) => `${i ? "L" : "M"}${p.x},${p.y}`).join("") + "Z";
  return <path d={d} fill={fill} stroke={stroke} strokeWidth={sw} strokeLinejoin="round" />;
};

const GroupTick = (p: any) => {
  const lbl = groupNames[p.payload.value - 1] || "";
  const ax = p.x + 7;
  const ay = p.y + 3;
  return (
    <text x={ax} y={ay} transform={`rotate(-45 ${ax} ${ay})`} textAnchor="end" fontSize={14} fontWeight="bold" fill="#4D4D4D" fontFamily={FONT}>
      {lbl}
    </text>
  );
};

const GROUP_STYLE = [
  { violin: "#E3173A", box: "rgba(232,40,70,0.55)", pt: "#C41E3A", ptStroke: "#3A0A10" },
  { violin: "#A6E5DD", box: "rgba(46,190,170,0.75)", pt: "#3CBFAE", ptStroke: "#1D4D47" },
];

function DrugPanel({ left, width, domain, ticks, dec, groups }: any) {
  return (
    <div style={{ position: "absolute", left, top: 1092 }}>
      <ScatterChart width={width} height={179} margin={{ top: 0, right: 0, bottom: 0, left: 0 }}>
        <XAxis type="number" dataKey="x" domain={[0.4, 2.6]} allowDataOverflow ticks={[1, 2]} height={37} tick={<GroupTick />}
          tickSize={3} tickMargin={2} tickLine={{ stroke: "#000", strokeWidth: 0.8 }} axisLine={{ stroke: "#000", strokeWidth: 1 }} interval={0} />
        <YAxis type="number" dataKey="y" domain={domain} allowDataOverflow ticks={ticks} width={25} tickFormatter={(v: number) => fmtNum(v, dec)}
          tick={{ fontSize: 7, fill: "#4D4D4D", fontFamily: FONT }} tickSize={3} tickMargin={1}
          axisLine={{ stroke: "#000", strokeWidth: 1 }} tickLine={{ stroke: "#000", strokeWidth: 0.8 }} interval={0} />
        {groups.map((g: any, gi: number) => (
          <Scatter key={"v" + gi} data={violinPoly(g.violin, gi + 1)} shape={NoShape} isAnimationActive={false}
            line={polyPath(GROUP_STYLE[gi].violin, "#000", 0.8, true)} />
        ))}
        {groups.map((g: any, gi: number) => (
          <Scatter key={"w" + gi} data={[{ x: gi + 1, y: g.box[0] }, { x: gi + 1, y: g.box[4] }]} shape={NoShape} isAnimationActive={false}
            line={segmentLines("#000", 0.9)} />
        ))}
        {groups.map((g: any, gi: number) => (
          <Scatter key={"b" + gi} data={boxPoly(g.box, gi + 1)} shape={NoShape} isAnimationActive={false}
            line={polyPath(GROUP_STYLE[gi].box, "#000", 0.9, false)} />
        ))}
        {groups.map((g: any, gi: number) => (
          <Scatter key={"m" + gi} data={[{ x: gi + 1 - BOX_HALF / 2, y: g.box[2] }, { x: gi + 1 + BOX_HALF / 2, y: g.box[2] }]} shape={NoShape}
            isAnimationActive={false} line={segmentLines("#000", 1.6)} />
        ))}
        {groups.map((g: any, gi: number) => (
          <Scatter key={"p" + gi} data={g.pts.map(([dx, y]: number[]) => ({ x: gi + 1 + dx, y }))} isAnimationActive={false}
            shape={(p: any) => <circle cx={p.cx} cy={p.cy} r={2} fill={GROUP_STYLE[gi].pt} stroke={GROUP_STYLE[gi].ptStroke} strokeWidth={0.5} />} />
        ))}
      </ScatterChart>
    </div>
  );
}

function DrugPanels() {
  return (
    <>
      <DrugPanel left={0} width={175} domain={[-7.24, -3.11]} ticks={[-7, -6, -5, -4]} dec={0}
        groups={[{ violin: docetaxelLowViolin, box: docetaxelLowBox, pts: docetaxelLowPts }, { violin: docetaxelHighViolin, box: docetaxelHighBox, pts: docetaxelHighPts }]} />
      <DrugPanel left={171} width={175} domain={[-5.02, -0.4]} ticks={[-5, -4, -3, -2, -1]} dec={0}
        groups={[{ violin: gemcitabineLowViolin, box: gemcitabineLowBox, pts: gemcitabineLowPts }, { violin: gemcitabineHighViolin, box: gemcitabineHighBox, pts: gemcitabineHighPts }]} />
      <DrugPanel left={347} width={173} domain={[-4.71, -2.05]} ticks={[-4.5, -4, -3.5, -3, -2.5]} dec={1}
        groups={[{ violin: paclitaxelLowViolin, box: paclitaxelLowBox, pts: paclitaxelLowPts }, { violin: paclitaxelHighViolin, box: paclitaxelHighBox, pts: paclitaxelHighPts }]} />
      <DrugPanel left={513} width={175} domain={[-5.46, -1.4]} ticks={[-5, -4, -3, -2]} dec={0}
        groups={[{ violin: vinorelbineLowViolin, box: vinorelbineLowBox, pts: vinorelbineLowPts }, { violin: vinorelbineHighViolin, box: vinorelbineHighBox, pts: vinorelbineHighPts }]} />
    </>
  );
}

// ================= overlay: letters, titles, legends =================
const Txt = ({ x, y, s, w, a, c, rot, children }: any) => (
  <text x={x} y={y} fontSize={s} fontWeight={w || "normal"} textAnchor={a || "start"} fill={c || "#000"} fontFamily={FONT}
    transform={rot ? `rotate(${rot} ${x} ${y})` : undefined}>
    {children}
  </text>
);

function Overlay() {
  const goLegendY = [389, 402, 416, 432];
  const keggLegendY = [309, 325, 341, 357, 375, 395];
  const absY = [740, 757, 774, 791, 808];
  const pBlockColors = ["#006400", "#32CD32", "#FFA500", "#FFC0CB", "#FFD700"];
  const pLabelY = [918, 937, 954, 972, 989, 1007];
  const stripText = [["BP", 300, 97], ["CC", 403, 96], ["MF", 504, 98]];
  return (
    <svg width={694} height={1271} style={{ position: "absolute", left: 0, top: 0, pointerEvents: "none" }}>
      <defs>
        <linearGradient id="qgrad" x1="0" y1="0" x2="0" y2="1">
          {Q_STOPS.slice().reverse().map(([t, c]) => (
            <stop key={t} offset={`${(1 - t) * 100}%`} stopColor={`rgb(${c.join(",")})`} />
          ))}
        </linearGradient>
        <linearGradient id="hgrad" x1="0" y1="0" x2="0" y2="1">
          <stop offset="0%" stopColor="#FF0000" />
          <stop offset="50%" stopColor="#F0F0F0" />
          <stop offset="100%" stopColor="#0000FF" />
        </linearGradient>
        <clipPath id="bclip"><rect x={0} y={0} width={664} height={300} /></clipPath>
      </defs>

      <Txt x={8} y={23} s={21} w="bold">A</Txt>
      <Txt x={362} y={23} s={21} w="bold">B</Txt>
      <Txt x={7} y={283} s={21} w="bold">C</Txt>
      <Txt x={362} y={284} s={21} w="bold">D</Txt>
      <Txt x={7} y={648} s={21} w="bold">E</Txt>
      <Txt x={8} y={1087} s={17} w="bold">F</Txt>
      <Txt x={185} y={1087} s={17} w="bold">G</Txt>
      <Txt x={354} y={1087} s={17} w="bold">H</Txt>
      <Txt x={522} y={1087} s={17} w="bold">I</Txt>

      <Txt x={46} y={138} s={10} a="middle" rot={-90}>-log10(adj.P.Val)</Txt>
      <Txt x={165} y={277} s={10} a="middle">logFC</Txt>
      <Txt x={285} y={118} s={10}>Sig</Txt>
      <circle cx={293} cy={131} r={2.5} fill="#0000FF" />
      <circle cx={293} cy={146} r={2.5} fill="#DCDCDC" />
      <circle cx={293} cy={161} r={2.5} fill="#FF0000" />
      <Txt x={307} y={134} s={8}>Down</Txt>
      <Txt x={307} y={149} s={8}>Not</Txt>
      <Txt x={307} y={164} s={8}>Up</Txt>

      <rect x={613} y={24} width={11} height={124} fill="url(#hgrad)" />
      <Txt x={627} y={31} s={8.5}>4</Txt>
      <Txt x={627} y={60} s={8.5}>2</Txt>
      <Txt x={627} y={89} s={8.5}>0</Txt>
      <Txt x={627} y={118} s={8.5}>{MINUS}2</Txt>
      <Txt x={627} y={148} s={8.5}>{MINUS}4</Txt>
      <g clipPath="url(#bclip)">
        <Txt x={637} y={30} s={8} w="bold">Type</Txt>
        <rect x={637} y={33} width={12} height={12} fill="#00CED6" />
        <rect x={637} y={46} width={12} height={12} fill="#F4877C" />
        <Txt x={651} y={42} s={8}>high</Txt>
        <Txt x={651} y={55} s={8}>low</Txt>
      </g>

      {stripText.map(([t, y, h]: any) => (
        <g key={t}>
          <rect x={287} y={y} width={12} height={h} fill="#D9D9D9" stroke="#333" strokeWidth={0.7} />
          <Txt x={293} y={y + h / 2} s={6.5} a="middle" c="#1A1A1A" rot={90}>{t}</Txt>
        </g>
      ))}
      <Txt x={228} y={622} s={8.5} a="middle">GeneRatio</Txt>
      <Txt x={310} y={378} s={8}>Count</Txt>
      {goCountLegend.map((c, i) => (
        <g key={c}>
          <circle cx={319} cy={goLegendY[i]} r={rGo(c)} fill="#000" />
          <Txt x={331} y={goLegendY[i] + 2.3} s={6.5}>{c}</Txt>
        </g>
      ))}
      <Txt x={310} y={462} s={8}>qvalue</Txt>
      <rect x={310} y={468} width={13} height={63} fill="url(#qgrad)" />
      {goQTicks.map((q) => (
        <Txt key={q} x={328} y={531 - (q / GO_QMAX) * 63 + 2.3} s={6.5}>{q.toFixed(2)}</Txt>
      ))}

      <Txt x={580} y={530} s={9.2} a="middle">GeneRatio</Txt>
      <Txt x={653} y={295} s={8.5}>Count</Txt>
      {keggCountLegend.map((c, i) => (
        <g key={c}>
          <circle cx={662} cy={keggLegendY[i]} r={rKegg(c)} fill="#000" />
          <Txt x={675} y={keggLegendY[i] + 2.5} s={7}>{c}</Txt>
        </g>
      ))}
      <Txt x={653} y={433} s={8.5}>qvalue</Txt>
      <rect x={653} y={440} width={14} height={77} fill="url(#qgrad)" />
      {keggQTicks.map((q) => (
        <Txt key={q} x={672} y={517 - (q / KEGG_QMAX) * 77 + 2.5} s={7}>{q.toFixed(2)}</Txt>
      ))}

      <Txt x={380} y={1064} s={14} a="middle">Correlation Coefficient</Txt>
      <Txt x={589} y={723} s={13.5}>abs(cor)</Txt>
      {absCorLegend.map((v, i) => (
        <g key={v}>
          <circle cx={602} cy={absY[i]} r={rCorLegend(v)} fill="#000" />
          <Txt x={615} y={absY[i] + 5} s={13.5}>{v.toFixed(1)}</Txt>
        </g>
      ))}
      <Txt x={590} y={890} s={15.5} w="bold">pvalue</Txt>
      {pBlockColors.map((c, i) => (
        <rect key={c} x={602} y={908 + i * 20} width={26} height={20} fill={c} />
      ))}
      {pvalueLegend.map((l, i) => (
        <Txt key={l} x={635} y={pLabelY[i] + 5} s={13.5}>{l}</Txt>
      ))}

      <Txt x={108} y={1090} s={12.5} w="bold" a="middle">Wilcoxon, p = 0.00015</Txt>
      <Txt x={273} y={1090} s={12.5} w="bold" a="middle">Wilcoxon, p = 0.83</Txt>
      <Txt x={451} y={1090} s={12.5} w="bold" a="middle">Wilcoxon, p = 0.0084</Txt>
      <Txt x={618} y={1090} s={12.5} w="bold" a="middle">Wilcoxon, p = 0.042</Txt>
      <Txt x={13} y={1166} s={9.5} w="bold" a="middle" rot={-90}>Estimated IC50 of Docetaxe</Txt>
      <Txt x={184} y={1168} s={9.5} w="bold" a="middle" rot={-90}>Estimated IC50 of Gemcitabine</Txt>
      <Txt x={357} y={1165} s={9.5} w="bold" a="middle" rot={-90}>Estimated IC50 of Paclitaxel</Txt>
      <Txt x={531} y={1166} s={9.5} w="bold" a="middle" rot={-90}>Estimated IC50 of Vinorelbine</Txt>
    </svg>
  );
}

export default function App() {
  return (
    <div style={{ position: "absolute", left: 0, top: 0, width: 694, height: 1271, background: "#fff", fontFamily: FONT, overflow: "hidden" }}>
      <PanelA />
      <PanelB />
      <PanelC />
      <PanelD />
      <PanelE />
      <DrugPanels />
      <Overlay />
    </div>
  );
}
